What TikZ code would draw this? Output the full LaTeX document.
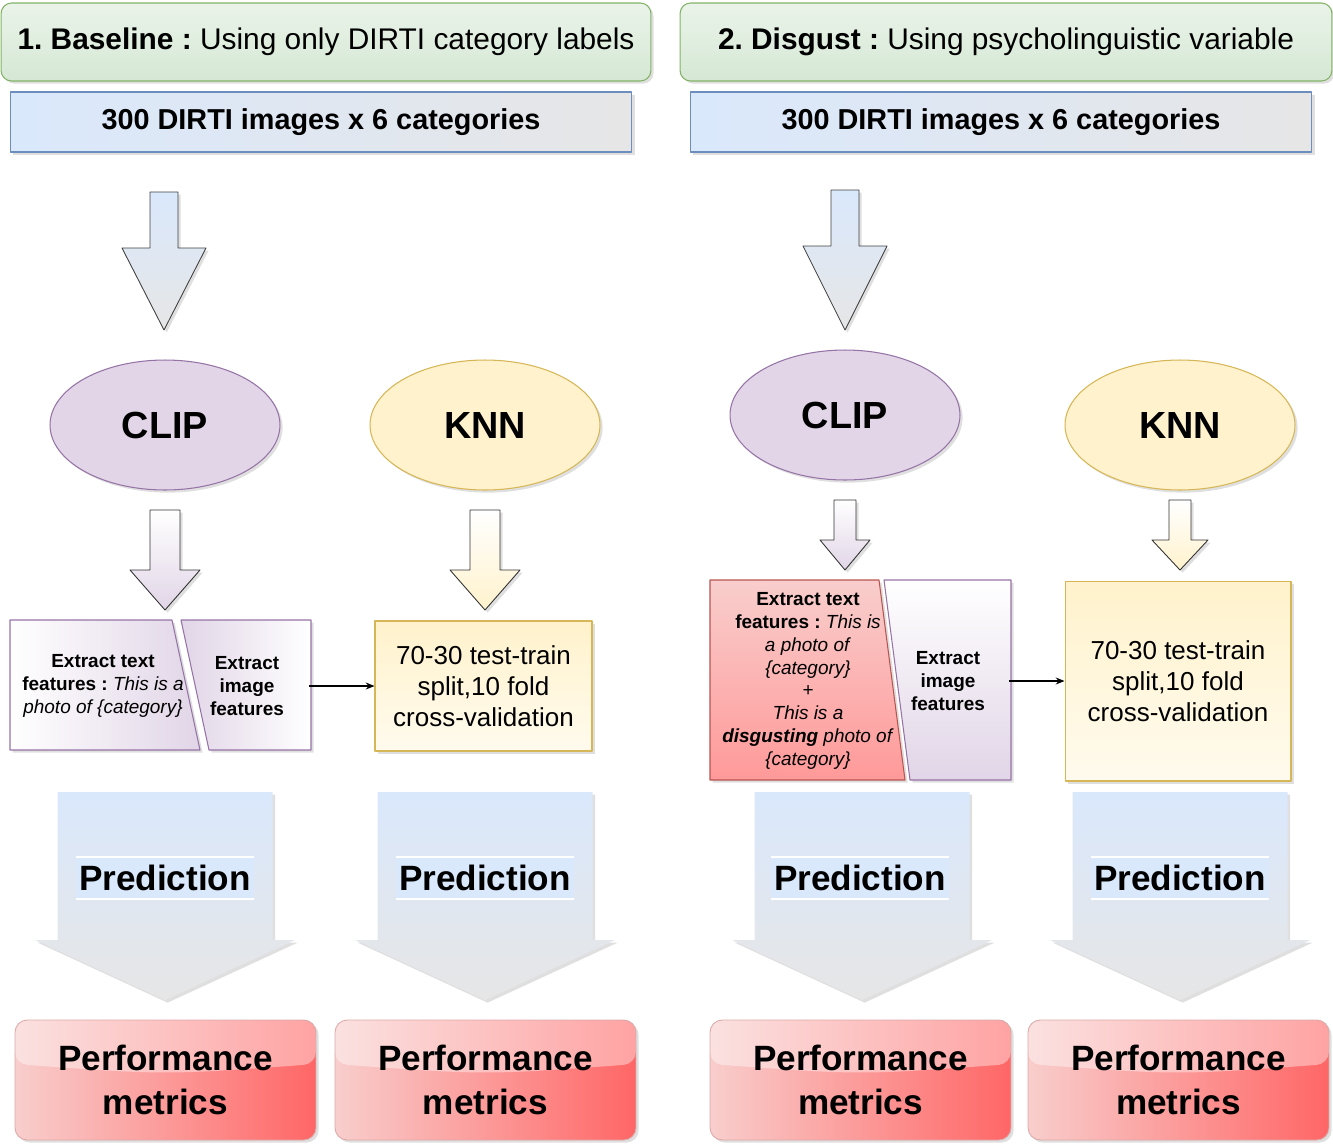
\documentclass[tikz,border=0pt]{standalone}
\usepackage{fontspec}
\setmainfont{Liberation Sans}
\frenchspacing
\usetikzlibrary{shapes.geometric,shadows,arrows.meta}

\definecolor{greenfill}{HTML}{D5E8D4}
\definecolor{greenline}{HTML}{82B366}
\definecolor{bluefill}{HTML}{DAE8FC}
\definecolor{blueline}{HTML}{6C8EBF}
\definecolor{grayfill}{HTML}{E6E6E6}
\definecolor{purplefill}{HTML}{E1D5E7}
\definecolor{purpleline}{HTML}{9673A6}
\definecolor{yellowfill}{HTML}{FFF2CC}
\definecolor{yellowline}{HTML}{D6B656}
\definecolor{redfill}{HTML}{F8CECC}
\definecolor{redline}{HTML}{B85450}
\definecolor{redmid}{HTML}{FF9999}
\definecolor{reddark}{HTML}{FF6666}

% block arrow pointing down: style, x centre, top, shaft half width, head start, head half width, tip
\newcommand{\downblock}[7]{%
  \draw[#1] (#2-#4,#3) -- (#2+#4,#3) -- (#2+#4,#5) -- (#2+#6,#5) -- (#2,#7)
    -- (#2-#6,#5) -- (#2-#4,#5) -- cycle;}

\tikzset{
  shadowed/.style={drop shadow={shadow xshift=1.5pt, shadow yshift=-1.5pt, opacity=0.25}},
  titlebox/.style={draw=greenline, line width=0.6pt, rounded corners=6pt,
    top color=greenfill!50!white, bottom color=greenfill, minimum height=1.56cm,
    font=\fontsize{17}{20}\selectfont, shadowed},
  databar/.style={draw=blueline, line width=0.6pt, left color=bluefill, right color=grayfill,
    minimum width=12.44cm, minimum height=1.2cm, font=\fontsize{16.4}{20}\selectfont\bfseries, shadowed},
  bigarrow/.style={draw=black!75, line width=0.5pt, top color=bluefill, bottom color=grayfill, shadowed},
  clipstep/.style={draw=black!80, line width=0.5pt, top color=white, bottom color=purplefill, shadowed},
  knnstep/.style={draw=black!80, line width=0.5pt, top color=white, bottom color=yellowfill, shadowed},
  model/.style={ellipse, line width=0.6pt, minimum width=4.6cm, minimum height=2.6cm, inner sep=0pt,
    font=\fontsize{21.5}{24}\selectfont\bfseries, shadowed},
  clipnode/.style={model, draw=purpleline, fill=purplefill},
  knnnode/.style={model, draw=yellowline, fill=yellowfill},
  smalltext/.style={align=center, font=\fontsize{10.8}{13}\selectfont},
  imgtext/.style={smalltext, font=\fontsize{10.8}{13}\selectfont\bfseries, minimum height=2.6cm},
  splitbox/.style={draw=yellowline, line width=0.6pt, top color=yellowfill, bottom color=yellowfill!35!white,
    align=center, font=\fontsize{14.8}{17.6}\selectfont, shadowed},
  link/.style={-{Stealth[length=5pt,width=4pt]}, line width=0.6pt},
  predarrow/.style={draw=none, top color=bluefill, bottom color=grayfill, shadowed},
  predband/.style={fill=bluefill, minimum width=3.56cm, minimum height=0.86cm, inner sep=0pt,
    font=\fontsize{20}{24}\selectfont\bfseries,
    path picture={\draw[white, line width=1.4pt]
      (path picture bounding box.north west) -- (path picture bounding box.north east)
      (path picture bounding box.south west) -- (path picture bounding box.south east);}},
  perfbox/.style={draw=redline!50, line width=0.5pt, rounded corners=7pt, left color=redfill, right color=reddark,
    minimum width=6.02cm, minimum height=2.4cm, align=center,
    font=\fontsize{20}{25.5}\selectfont\bfseries, shadowed,
    path picture={\fill[white, opacity=0.4] (path picture bounding box.north west)
      -- (path picture bounding box.north east) -- ([yshift=-0.88cm]path picture bounding box.north east)
      .. controls ([yshift=-1.1cm]path picture bounding box.north) .. ([yshift=-0.88cm]path picture bounding box.north west)
      -- cycle;}}
}

\begin{document}
\begin{tikzpicture}[x=0.02cm, y=-0.02cm, line join=round]
  \useasboundingbox (0,0) rectangle (1333,1144);

  % ---------- 1. baseline ----------
  \node[titlebox, minimum width=13cm] (titleL) at (326,42) {\textbf{1. Baseline :} Using only DIRTI category labels};
  \node[databar] (dataL) at (321,122) {300 DIRTI images x 6 categories};
  \downblock{bigarrow}{164}{192}{14}{248}{42}{330}
  \node[clipnode] (clipL) at (165,425) {CLIP};
  \node[knnnode] (knnL) at (485,425) {KNN};
  \downblock{clipstep}{165}{510}{15}{570}{35}{610}
  \downblock{knnstep}{485}{510}{15}{570}{35}{610}
  \draw[draw=purpleline, line width=0.6pt, left color=white, right color=purplefill, shadowed]
    (10,620) -- (172,620) -- (200,750) -- (10,750) -- cycle;
  \draw[draw=purpleline, line width=0.6pt, left color=purplefill, right color=white, shadowed]
    (181,620) -- (311,620) -- (311,750) -- (209,750) -- cycle;
  \node[smalltext] (textL) at (103,686) {\textbf{Extract text}\\\textbf{features :} \textit{This is a}\\\textit{photo of \{category\}}};
  \node[imgtext, minimum width=2.48cm] (imgL) at (247,686) {Extract\\image\\features};
  \node[splitbox, minimum width=4.34cm, minimum height=2.6cm] (splitL) at (483.5,686) {70-30 test-train\\split,10 fold\\cross-validation};
  \draw[link] (imgL.east) -- (splitL.west);
  \downblock{predarrow}{165}{792}{107.5}{940}{130}{1000}
  \downblock{predarrow}{485}{792}{107.5}{940}{130}{1000}
  \node[predband] (predL1) at (165,878) {Prediction};
  \node[predband] (predL2) at (485,878) {Prediction};
  \node[perfbox] (perfL1) at (165.5,1080) {Performance\\metrics};
  \node[perfbox] (perfL2) at (485.5,1080) {Performance\\metrics};

  % ---------- 2. disgust ----------
  \node[titlebox, minimum width=13.04cm] (titleR) at (1006,42) {\textbf{2. Disgust :} Using psycholinguistic variable};
  \node[databar] (dataR) at (1001,122) {300 DIRTI images x 6 categories};
  \downblock{bigarrow}{845}{190}{14}{246}{42}{330}
  \node[clipnode] (clipR) at (845,415) {CLIP};
  \node[knnnode] (knnR) at (1180,425) {KNN};
  \downblock{clipstep}{845}{500}{11}{540}{25}{570}
  \downblock{knnstep}{1180}{500}{11}{540}{28}{570}
  \draw[draw=redline, line width=0.6pt, top color=redfill, bottom color=redmid, shadowed]
    (710,580) -- (879,580) -- (905,780) -- (710,780) -- cycle;
  \draw[draw=purpleline, line width=0.6pt, top color=white, bottom color=purplefill, shadowed]
    (884,580) -- (1011,580) -- (1011,780) -- (910,780) -- cycle;
  \node[smalltext] (textR) at (808,681) {\textbf{Extract text}\\\textbf{features :} \textit{This is}\\\textit{a photo of}\\\textit{\{category\}}\\\textit{+}\\\textit{This is a}\\\textbf{\textit{disgusting}} \textit{photo of}\\\textit{\{category\}}};
  \node[imgtext, minimum width=2.44cm] (imgR) at (948,681) {Extract\\image\\features};
  \node[splitbox, minimum width=4.52cm, minimum height=4cm] (splitR) at (1178,681) {70-30 test-train\\split,10 fold\\cross-validation};
  \draw[link] (imgR.east) -- (splitR.west);
  \downblock{predarrow}{862}{792}{107.5}{940}{130}{1000}
  \downblock{predarrow}{1180}{792}{107.5}{940}{130}{1000}
  \node[predband] (predR1) at (860,878) {Prediction};
  \node[predband] (predR2) at (1180,878) {Prediction};
  \node[perfbox] (perfR1) at (860.5,1080) {Performance\\metrics};
  \node[perfbox] (perfR2) at (1178.5,1080) {Performance\\metrics};
\end{tikzpicture}
\end{document}
